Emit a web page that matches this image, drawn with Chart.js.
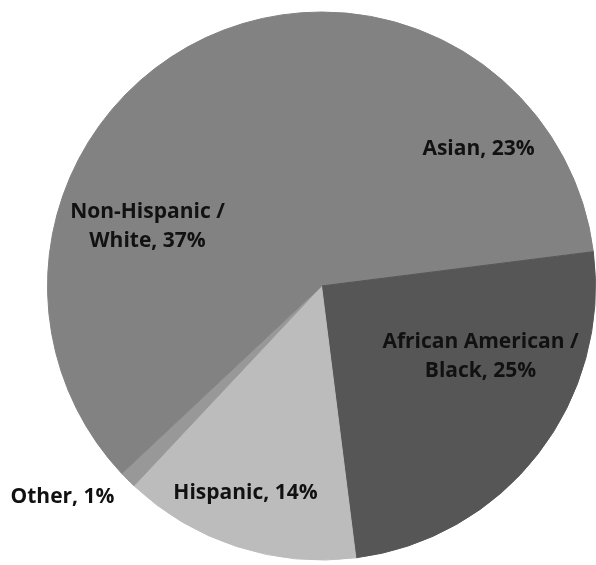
<!DOCTYPE html>
<html>
<head>
  <title>Ethnicity breakdown</title>
  <script src="https://cdn.jsdelivr.net/npm/chart.js"></script>
  <style>
    body { margin: 0; background: #fff; }
    #wrap { width: 596px; height: 565px; }
  </style>
</head>
<body>
  <div id="wrap"><canvas id="pieChart" width="596" height="565"></canvas></div>

  <script>
    // Slice data, clockwise from the top
    const groups = ['Asian', 'African American / Black', 'Hispanic', 'Other', 'Non-Hispanic / White'];
    const shares = [23, 25, 14, 1, 37];
    const shades = ['#828282', '#565656', '#bcbcbc', '#989898', '#828282'];

    // Label text lines and where they sit relative to the pie centre
    const labelLines = [
      ['Asian, 23%'],
      ['African American /', 'Black, 25%'],
      ['Hispanic, 14%'],
      ['Other, 1%'],
      ['Non-Hispanic /', 'White, 37%']
    ];
    const labelOffsets = [[157, -137], [159, 71], [-76, 207], [-259, 211], [-174, -59]];

    const sliceLabels = {
      id: 'sliceLabels',
      afterDatasetsDraw(chart) {
        const ctx = chart.ctx;
        const arcs = chart.getDatasetMeta(0).data;
        const cx = arcs[0].x, cy = arcs[0].y;
        ctx.save();
        ctx.font = 'bold 21px "Open Sans", sans-serif';
        ctx.fillStyle = '#111';
        ctx.textAlign = 'center';
        ctx.textBaseline = 'middle';
        labelLines.forEach((lines, i) => {
          const lineH = 29;
          const x = cx + labelOffsets[i][0];
          let y = cy + labelOffsets[i][1] - (lines.length - 1) * lineH / 2;
          lines.forEach(t => { ctx.fillText(t, x, y); y += lineH; });
        });
        ctx.restore();
      }
    };

    new Chart(document.getElementById('pieChart').getContext('2d'), {
      type: 'pie',
      data: {
        labels: groups,
        datasets: [{
          data: shares,
          backgroundColor: shades,
          borderColor: shades,
          borderWidth: 1
        }]
      },
      options: {
        responsive: false,
        animation: false,
        layout: { padding: { left: 47, right: -5, top: 9, bottom: 2 } },
        plugins: {
          legend: { display: false },
          tooltip: { enabled: false }
        }
      },
      plugins: [sliceLabels]
    });
  </script>
</body>
</html>
